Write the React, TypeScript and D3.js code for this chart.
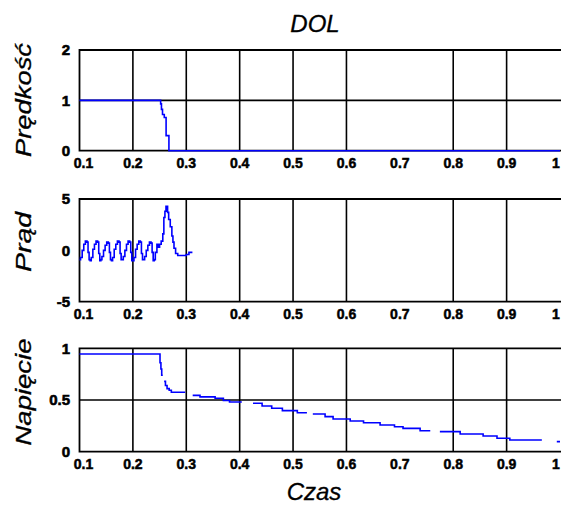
import * as React from 'react';
import * as d3 from 'd3';

const xTicks = [0.1, 0.2, 0.3, 0.4, 0.5, 0.6, 0.7, 0.8, 0.9, 1];
const xTickLabels = ['0.1', '0.2', '0.3', '0.4', '0.5', '0.6', '0.7', '0.8', '0.9', '1'];
// vertical grid lines visible in the picture (0.7 is not drawn there)
const gridX = [0.2, 0.3, 0.4, 0.5, 0.6, 0.8, 0.9];

const speedTime = [0.1, 0.252, 0.2535, 0.2555, 0.2588, 0.2622, 0.2675, 1.0];
const speedValue = [1, 0.93, 0.82, 0.72, 0.66, 0.3, 0, 0];

const currentTime = [
  0.100, 0.102, 0.105, 0.108, 0.111, 0.114, 0.116, 0.118,
  0.120, 0.122, 0.125, 0.128, 0.131, 0.134, 0.136, 0.138,
  0.140, 0.142, 0.145, 0.148, 0.151, 0.154, 0.156, 0.158,
  0.160, 0.162, 0.165, 0.168, 0.171, 0.174, 0.176, 0.178,
  0.180, 0.182, 0.185, 0.188, 0.191, 0.194, 0.196, 0.198,
  0.200, 0.202, 0.205, 0.208, 0.211, 0.214, 0.216, 0.218,
  0.220, 0.222, 0.225, 0.228, 0.231, 0.234, 0.236, 0.238,
  0.240, 0.242, 0.245, 0.248, 0.250, 0.253, 0.256, 0.258,
  0.260, 0.262, 0.265, 0.267, 0.270, 0.273, 0.275, 0.277,
  0.280, 0.284, 0.296, 0.300, 0.305, 0.310,
];
const currentValue = [
  -0.9, -0.7, 0.0, 0.6, 0.9, 0.8, -0.2, -0.9,
  -1.0, -0.7, 0.1, 0.6, 0.9, 0.8, -0.3, -1.0,
  -0.9, -0.6, 0.0, 0.5, 0.8, 0.7, -0.2, -0.9,
  -1.0, -0.7, 0.1, 0.6, 0.9, 0.8, -0.3, -0.9,
  -0.9, -0.6, 0.0, 0.6, 0.9, 0.8, -0.2, -1.0,
  -1.0, -0.7, 0.1, 0.6, 0.9, 0.8, -0.3, -0.9,
  -0.9, -0.6, 0.0, 0.5, 0.8, 0.7, -0.2, -1.0,
  -0.9, -0.2, 0.6, 0.3, 0.6, 0.9, 1.6, 3.2,
  3.8, 4.3, 3.7, 3.0, 2.3, 1.4, 0.8, 0.2,
  -0.3, -0.5, -0.5, -0.4, -0.2, -0.1,
];

// null marks the places where the line is broken in the picture
const voltageTime = [
  0.1, 0.2508, 0.2525, 0.254, 0.256, 0.256, 0.2585, 0.261, 0.264, 0.268, 0.272, 0.298, 0.298,
  0.312, 0.3257, 0.354, 0.3695, 0.381, 0.404, 0.404,
  0.425, 0.442, 0.46, 0.48, 0.508, 0.526, 0.526,
  0.537, 0.56, 0.575, 0.607, 0.632, 0.663, 0.69, 0.706, 0.738, 0.757, 0.757,
  0.775, 0.813, 0.856, 0.882, 0.906, 0.966, 0.966,
  0.994, 1.0,
];
const voltageValue = [
  0.945, 0.86, 0.8, 0.74, 0.74, null, 0.68, 0.64, 0.61, 0.595, 0.575, 0.575, null,
  0.545, 0.53, 0.517, 0.495, 0.48, 0.48, null,
  0.468, 0.442, 0.42, 0.397, 0.377, 0.377, null,
  0.365, 0.339, 0.316, 0.297, 0.28, 0.258, 0.242, 0.226, 0.203, 0.203, null,
  0.194, 0.171, 0.152, 0.13, 0.113, 0.113, null,
  0.097, 0.097,
];

const panels = [
  {label: 'Prędkość', top: 50, bottom: 150.7, domain: [0, 2], yTicks: [0, 1, 2], yTickLabels: ['0', '1', '2'],
    gridY: [1], time: speedTime, value: speedValue, labelY: 100, labelLen: 114},
  {label: 'Prąd', top: 199, bottom: 301.7, domain: [-5, 5], yTicks: [-5, 0, 5], yTickLabels: ['-5', '0', '5'],
    gridY: [], time: currentTime, value: currentValue, labelY: 242, labelLen: 60},
  {label: 'Napięcie', top: 348.3, bottom: 451.7, domain: [0, 1], yTicks: [0, 0.5, 1], yTickLabels: ['0', '0.5', '1'],
    gridY: [0.5], time: voltageTime, value: voltageValue, labelY: 392, labelLen: 107},
];

const width = 561;
const height = 509;
const left = 79.5;
const right = 560;

const font = '"Liberation Sans", Arial, sans-serif';

function Panel({p, x}) {
  const y = d3.scaleLinear().domain(p.domain).range([p.bottom, p.top]);
  const pts = p.time.map((t, i) => [t, p.value[i]]);
  const line = d3.line()
    .defined(d => d[1] !== null)
    .x(d => x(d[0]))
    .y(d => y(d[1]))
    .curve(d3.curveStepAfter);

  return (
    <g>
      {/* grid */}
      {gridX.map(t => (
        <line key={'gx' + t} x1={x(t)} x2={x(t)} y1={p.top} y2={p.bottom} stroke="#000" strokeWidth={1.6} />
      ))}
      {p.gridY.map(v => (
        <line key={'gy' + v} x1={left} x2={right + 3} y1={y(v)} y2={y(v)} stroke="#000" strokeWidth={1.6} />
      ))}
      {/* box, right side runs off the picture */}
      <path d={`M${right + 3},${p.top}H${left}V${p.bottom}H${right + 3}`} fill="none" stroke="#000" strokeWidth={1.8} />
      <path d={line(pts)} fill="none" stroke="#0000ff" strokeWidth={1.6} />
      {/* y ticks */}
      {p.yTicks.map((v, i) => (
        <text key={'yt' + v} x={70} y={y(v)} dy="0.36em" textAnchor="end" stroke="#000" strokeWidth={0.6}
          fontFamily={font} fontWeight="bold" fontSize={15}>{p.yTickLabels[i]}</text>
      ))}
      {/* x ticks */}
      {xTicks.map((t, i) => (
        <text key={'xt' + t} x={x(t) + (i === 0 ? 4 : i === xTicks.length - 1 ? -4 : 0)} y={p.bottom + 17}
          textAnchor="middle" stroke="#000" strokeWidth={0.5}
          fontFamily={font} fontWeight="bold" fontSize={14}>{xTickLabels[i]}</text>
      ))}
      <text transform={`translate(31,${p.labelY}) rotate(-90)`} textAnchor="middle" stroke="#000" strokeWidth={0.3}
        fontFamily={font} fontStyle="italic" fontSize={22}
        textLength={p.labelLen} lengthAdjust="spacingAndGlyphs">{p.label}</text>
    </g>
  );
}

export default function App() {
  const x = d3.scaleLinear().domain([0.1, 1]).range([left, right]);

  return (
    <svg width={width} height={height} style={{position: 'absolute', left: 0, top: 0, background: '#fff'}}>
      <rect width={width} height={height} fill="#fff" />
      <text x={315} y={32} textAnchor="middle" stroke="#000" strokeWidth={0.3}
        fontFamily={font} fontStyle="italic" fontSize={24}>DOL</text>
      {panels.map(p => <Panel key={p.label} p={p} x={x} />)}
      <text x={314} y={500} textAnchor="middle" stroke="#000" strokeWidth={0.3}
        fontFamily={font} fontStyle="italic" fontSize={24}>Czas</text>
    </svg>
  );
}
